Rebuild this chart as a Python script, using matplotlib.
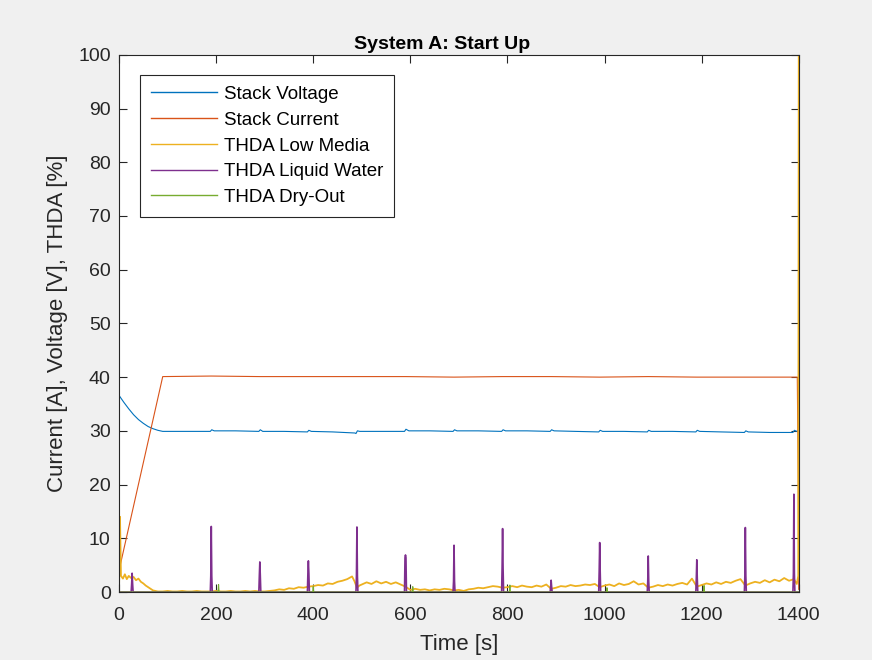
import numpy as np
import matplotlib
matplotlib.use("Agg")
from matplotlib import pyplot as plt

# MATLAB default line colours
cVolt = (0.0, 0.447, 0.741)
cCurr = (0.85, 0.325, 0.098)
cLow = (0.929, 0.694, 0.125)
cWater = (0.494, 0.184, 0.556)
cDry = (0.466, 0.674, 0.188)

# stack voltage [V]
voltTime = [0, 10, 20, 30, 40, 50, 60, 70, 80, 90, 120, 160, 188, 191, 196, 240,
            288, 291, 296, 340, 388, 391, 396, 440, 486, 488, 491, 496, 540,
            588, 591, 597, 640, 688, 691, 696, 740, 788, 791, 796, 840,
            888, 891, 896, 940, 988, 991, 996, 1040, 1088, 1091, 1096, 1140,
            1188, 1191, 1196, 1240, 1288, 1291, 1296, 1340, 1388, 1391, 1396, 1400]
voltValue = [36.6, 35.3, 34.1, 33.0, 32.1, 31.4, 30.8, 30.4, 30.1, 29.9, 29.9, 29.9, 29.9, 30.2, 30.0, 30.0,
             29.9, 30.2, 29.9, 29.9, 29.8, 30.1, 29.9, 29.8, 29.6, 29.5, 30.0, 29.9, 29.9,
             29.9, 30.3, 30.0, 30.0, 29.9, 30.2, 30.0, 30.0, 29.9, 30.2, 30.0, 30.0,
             29.9, 30.2, 30.0, 29.9, 29.8, 30.1, 29.9, 29.9, 29.8, 30.1, 29.9, 29.9,
             29.8, 30.1, 29.9, 29.8, 29.7, 30.0, 29.8, 29.7, 29.7, 30.1, 29.9, 30.2]

# stack current [A]
currTime = [0, 90, 190, 290, 390, 490, 590, 690, 790, 890, 990, 1090, 1190, 1290, 1397, 1399, 1400]
currValue = [4.0, 40.1, 40.2, 40.1, 40.1, 40.1, 40.1, 40.0, 40.1, 40.1, 40.0, 40.1, 40.0, 40.0, 40.0, 20.0, 0.5]

# THDA low media [%]
lowTime = [0, 2, 4, 8, 12, 16, 20, 25, 30, 35, 40, 45, 50, 55, 60, 65, 70, 75, 80,
           90, 100, 110, 120, 130, 140, 150, 160, 170, 180, 190, 200, 210, 220, 230, 240, 250,
           260, 270, 280, 290, 300, 310, 320, 330, 340, 350, 360, 370, 380, 390, 400,
           410, 420, 430, 440, 450, 460, 470, 480, 485, 490, 495, 500, 510, 520, 530, 540,
           550, 560, 570, 580, 590, 600, 610, 620, 630, 640, 650, 660, 670, 680, 690, 700,
           710, 720, 730, 740, 750, 760, 770, 780, 790, 800, 810, 820, 830, 840, 850, 860,
           870, 880, 890, 900, 910, 920, 930, 940, 950, 960, 970, 980, 990, 1000, 1010, 1020,
           1030, 1040, 1050, 1060, 1070, 1080, 1090, 1100, 1110, 1120, 1130, 1140, 1150, 1160,
           1170, 1180, 1190, 1200, 1210, 1220, 1230, 1240, 1250, 1260, 1270, 1280, 1290, 1300,
           1310, 1320, 1330, 1340, 1350, 1360, 1370, 1380, 1390, 1396, 1399, 1400]
lowValue = [0.5, 14.0, 3.0, 2.5, 3.3, 2.4, 3.0, 2.6, 2.8, 2.2, 2.5, 1.9, 1.6, 1.2, 0.9, 0.6, 0.3, 0.2, 0.1,
            0.1, 0.2, 0.1, 0.1, 0.2, 0.1, 0.1, 0.2, 0.1, 0.1, 0.1, 0.2, 0.1, 0.1, 0.2, 0.1, 0.1,
            0.2, 0.1, 0.2, 0.1, 0.1, 0.2, 0.3, 0.5, 0.4, 0.7, 0.6, 0.9, 0.8, 1.0, 1.1,
            1.3, 1.2, 1.6, 1.5, 1.9, 2.1, 2.4, 2.9, 2.0, 0.8, 1.2, 1.4, 1.8, 1.5, 2.0, 1.6,
            1.9, 1.5, 1.8, 1.4, 1.0, 0.4, 0.6, 0.4, 0.5, 0.3, 0.5, 0.4, 0.6, 0.5, 0.3, 0.4,
            0.2, 0.5, 0.6, 0.8, 0.7, 0.9, 1.1, 1.0, 0.8, 0.9, 1.1, 0.9, 1.2, 1.0, 0.9, 1.2,
            1.0, 1.4, 0.6, 0.8, 1.1, 1.0, 1.3, 1.1, 1.2, 1.4, 1.3, 1.5, 0.9, 1.2, 1.4, 1.1,
            1.6, 1.3, 1.5, 2.0, 1.4, 1.6, 0.8, 1.0, 1.3, 1.1, 1.4, 1.2, 1.5, 1.7,
            1.4, 2.5, 1.0, 1.3, 1.6, 1.4, 1.8, 1.5, 1.9, 1.7, 2.1, 2.4, 1.2, 1.6,
            1.9, 1.7, 2.2, 1.8, 2.3, 2.0, 2.6, 2.1, 2.4, 1.5, 3.0, 100.0]

# THDA liquid water [%]: spike times, peak heights and the lower shoulder next to each spike
waterTime = [27, 190, 290, 390, 490, 590, 690, 790, 890, 990, 1090, 1190, 1290, 1390]
waterPeak = [3.5, 12.2, 5.6, 5.8, 12.1, 6.9, 8.7, 11.8, 2.2, 9.2, 6.7, 6.0, 12.0, 18.2]
waterShoulder = [1.5, 3.0, 3.0, 3.5, 3.0, 6.4, 2.0, 4.5, 1.0, 4.0, 2.0, 2.5, 3.0, 3.5]

# THDA dry-out [%]
dryTime = [0, 204, 205, 206, 399, 400, 401, 604, 605, 606, 804, 805, 806, 1004, 1005, 1006, 1204, 1205, 1206, 1400]
dryValue = [0.0, 0.0, 1.4, 0.0, 0.0, 1.0, 0.0, 0.0, 1.0, 0.0, 0.0, 1.3, 0.0, 0.0, 0.8, 0.0, 0.0, 1.2, 0.0, 0.0]

plt.rcParams['font.family'] = ['Liberation Sans', 'DejaVu Sans']

fig = plt.figure(figsize=(8.72, 6.6), dpi=100, facecolor="#f0f0f0")
ax = fig.add_axes([0.1365, 0.103, 0.7795, 0.814])

# liquid water series as narrow spikes on a zero baseline
wt, wv = [0], [0]
for t, p, s in zip(waterTime, waterPeak, waterShoulder):
    wt += [t - 2, t - 1, t, t + 1, t + 2]
    wv += [0, s, p, s, 0]
wt.append(1400)
wv.append(0)

ax.plot(voltTime, voltValue, color=cVolt, lw=0.8, label="Stack Voltage")
ax.plot(currTime, currValue, color=cCurr, lw=0.8, label="Stack Current")
ax.plot(lowTime, lowValue, color=cLow, lw=1.3, label="THDA Low Media")
ax.plot(wt, wv, color=cWater, lw=1.2, label="THDA Liquid Water")
ax.plot(dryTime, dryValue, color=cDry, lw=0.8, label="THDA Dry-Out")

ax.set_xlim(0, 1400)
ax.set_ylim(0, 100)
ax.set_xticks(np.arange(0, 1401, 200))
ax.set_yticks(np.arange(0, 101, 10))
ax.tick_params(direction="in", top=True, right=True, length=5.5, width=0.8,
               labelsize=14, colors="#262626")
ax.tick_params(axis="x", pad=11)
ax.tick_params(axis="y", pad=6)
for sp in ax.spines.values():
    sp.set_color("#262626")
    sp.set_linewidth(0.8)

ax.set_title("System A: Start Up", fontsize=14, fontweight="bold", x=0.475, pad=4)
ax.set_xlabel("Time [s]", fontsize=16, color="#262626", labelpad=7)
ax.set_ylabel("Current [A], Voltage [V], THDA [%]", fontsize=16, color="#262626", labelpad=7)

leg = ax.legend(loc="upper left", bbox_to_anchor=(0.031, 0.963), fontsize=13.5,
                fancybox=False, framealpha=1, edgecolor="#262626",
                handlelength=3.5, handletextpad=0.35, borderpad=0.6,
                labelspacing=0.46, borderaxespad=0)
leg.get_frame().set_linewidth(0.8)
for line in leg.get_lines():
    line.set_linewidth(1.0)

fig.savefig("out.png", dpi=100, facecolor=fig.get_facecolor())
